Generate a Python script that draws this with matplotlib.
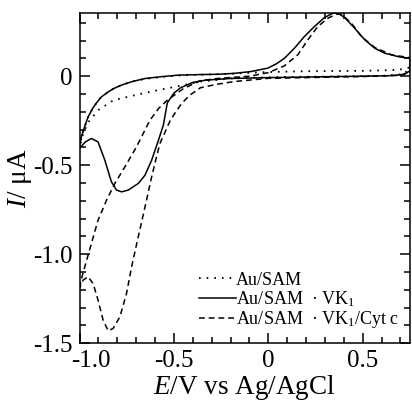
import matplotlib
matplotlib.use("Agg")
import matplotlib.pyplot as plt
import matplotlib.transforms as mtransforms
from matplotlib.ticker import MultipleLocator

plt.rcParams['font.family'] = ['Liberation Serif', 'DejaVu Serif']
plt.rcParams['mathtext.fontset'] = 'custom'
plt.rcParams['mathtext.rm'] = 'Liberation Serif'
plt.rcParams['mathtext.it'] = 'Liberation Serif:italic'
plt.rcParams['axes.unicode_minus'] = False
plt.rcParams['lines.scale_dashes'] = False

# ---- data ----
# Au/SAM (dotted)
sam_E = [-1.00, -0.99, -0.975, -0.955, -0.93, -0.91, -0.884, -0.85, -0.82, -0.778, -0.72, -0.653,
         -0.56, -0.476, -0.37, -0.263, -0.15, -0.05, 0.20, 0.50, 0.65, 0.72, 0.75,
         0.72, 0.60, 0.30, 0.00, -0.20, -0.26, -0.36, -0.45, -0.59, -0.70, -0.82, -0.90, -0.955, -0.98, -1.00]
sam_I = [-0.40, -0.34, -0.29, -0.23, -0.18, -0.15, -0.116, -0.09, -0.07, -0.05, -0.03, -0.015,
         -0.004, 0.004, 0.008, 0.011, 0.016, 0.022, 0.028, 0.030, 0.034, 0.040, 0.050,
         0.012, 0.002, -0.002, -0.006, -0.012, -0.020, -0.030, -0.050, -0.080, -0.105, -0.135, -0.19, -0.26, -0.32, -0.40]

# Au/SAM・VK1 (solid)
vk_E = [-1.00, -0.99, -0.975, -0.955, -0.93, -0.91, -0.884, -0.85, -0.82, -0.778, -0.72, -0.653,
        -0.56, -0.476, -0.37, -0.263, -0.18, -0.093, -0.004, 0.04, 0.085, 0.138, 0.191, 0.244,
        0.298, 0.342, 0.369, 0.404, 0.457, 0.511, 0.564, 0.617, 0.688, 0.75,
        0.75, 0.72, 0.65, 0.50, 0.30, 0.00, -0.20, -0.33, -0.40, -0.465, -0.50, -0.535, -0.556,
        -0.582, -0.618, -0.653, -0.689, -0.742, -0.777, -0.804, -0.831, -0.866, -0.902, -0.937,
        -0.97, -1.00]
vk_I = [-0.40, -0.34, -0.29, -0.23, -0.18, -0.15, -0.116, -0.09, -0.07, -0.05, -0.03, -0.013,
        -0.002, 0.006, 0.009, 0.011, 0.016, 0.026, 0.045, 0.068, 0.100, 0.157, 0.223, 0.279,
        0.330, 0.354, 0.354, 0.330, 0.270, 0.204, 0.157, 0.129, 0.110, 0.100,
        0.030, 0.010, 0.003, 0.000, -0.003, -0.008, -0.013, -0.022, -0.035, -0.065, -0.095, -0.15, -0.275,
        -0.36, -0.472, -0.556, -0.603, -0.640, -0.650, -0.640, -0.594, -0.472, -0.369, -0.350,
        -0.37, -0.406]

# Au/SAM・VK1/Cyt c (dashed)
cyt_E = [-1.00, -0.985, -0.972, -0.937, -0.902, -0.857, -0.813, -0.76, -0.698, -0.627, -0.58, -0.535,
         -0.45, -0.36, -0.27, -0.18, -0.10, 0.00, 0.085, 0.156, 0.209, 0.262, 0.316, 0.36, 0.387,
         0.44, 0.493, 0.564, 0.653, 0.75,
         0.75, 0.70, 0.50, 0.35, 0.00, -0.18, -0.27, -0.36, -0.42, -0.46, -0.49, -0.52, -0.545,
         -0.574, -0.595, -0.618, -0.653, -0.689, -0.724, -0.751, -0.786, -0.822, -0.848, -0.875,
         -0.902, -0.928, -0.955, -0.981, -1.00]
cyt_I = [-1.19, -1.12, -1.071, -0.94, -0.81, -0.697, -0.603, -0.51, -0.397, -0.247, -0.18, -0.135,
         -0.07, -0.025, -0.013, -0.006, 0.000, 0.020, 0.058, 0.120, 0.204, 0.279, 0.326, 0.348, 0.348,
         0.298, 0.223, 0.161, 0.120, 0.104,
         0.025, 0.005, -0.002, -0.005, -0.012, -0.030, -0.045, -0.065, -0.11, -0.155, -0.20, -0.25, -0.31,
         -0.378, -0.465, -0.566, -0.734, -0.903, -1.071, -1.221, -1.352, -1.418, -1.431, -1.371,
         -1.258, -1.165, -1.127, -1.146, -1.19]

labels = ['Au/SAM', 'Au/SAM\u2002\u00b7 VK$_1$', 'Au/SAM\u2002\u00b7 VK$_1$/Cyt c']
xticks = [-1.0, -0.5, 0.0, 0.5]
xticklabels = ['-1.0', '-0.5', '0', '0.5']
yticks = [-1.5, -1.0, -0.5, 0.0]
yticklabels = ['-1.5', '-1.0', '-0.5', '0']

fig = plt.figure(figsize=(4.12, 4.07), dpi=100)
ax = fig.add_axes([0.193, 0.157, 0.802, 0.811])

ax.plot(sam_E, sam_I, color='black', lw=1.3, linestyle=(0, (1.2, 4.3)), label=labels[0])
ax.plot(vk_E, vk_I, color='black', lw=1.1, linestyle='-', label=labels[1])
ax.plot(cyt_E, cyt_I, color='black', lw=1.1, linestyle=(0, (4.2, 2.8)), label=labels[2])

ax.set_xlim(-1.0, 0.75)
ax.set_ylim(-1.5, 0.355)
ax.set_xticks(xticks)
ax.set_xticklabels(xticklabels)
ax.set_yticks(yticks)
ax.set_yticklabels(yticklabels)
ax.xaxis.set_minor_locator(MultipleLocator(0.1))
ax.yaxis.set_minor_locator(MultipleLocator(0.1))
ax.tick_params(which='both', direction='in', top=True, right=True, width=1.1, labelsize=18)
ax.tick_params(which='major', length=7.2)
ax.tick_params(which='minor', length=4.3)
ax.tick_params(axis='x', pad=5)
ax.tick_params(axis='y', pad=5)
for s in ax.spines.values():
    s.set_linewidth(1.1)

# shift the first x tick label right like in the reference
lbl = ax.get_xticklabels()[0]
lbl.set_transform(lbl.get_transform() + mtransforms.ScaledTranslation(11/100, 0, fig.dpi_scale_trans))

ax.set_xlabel('$E$/V vs Ag/AgCl', fontsize=19.5, labelpad=1)
ax.set_ylabel('$I$/ \u03bcA', fontsize=19.5, labelpad=-1)

leg = ax.legend(loc='lower left', bbox_to_anchor=(0.362, 0.039), frameon=False, fontsize=13,
                handlelength=2.05, handletextpad=0.0, labelspacing=0.02, borderaxespad=0,
                borderpad=0)

fig.savefig('out.png', dpi=100)
